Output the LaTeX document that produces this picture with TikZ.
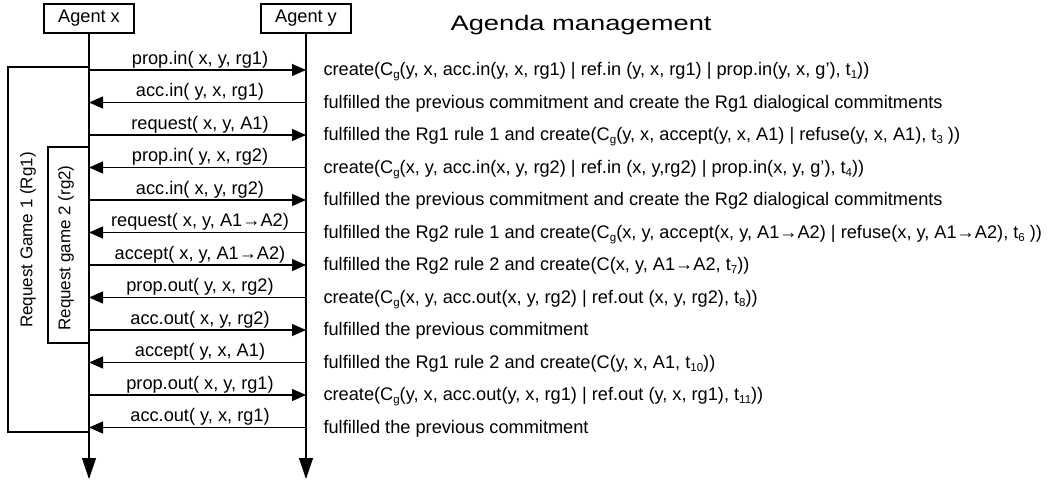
\documentclass[tikz,border=0pt]{standalone}
\usepackage{fontspec}
\setmainfont{Liberation Sans}
\usepackage{graphicx}
\usetikzlibrary{arrows.meta}
\newcommand{\lsub}[1]{\raisebox{-0.35ex}{\fontsize{11.5}{12}\selectfont #1}}
\begin{document}
\begin{tikzpicture}[x=1pt,y=-1pt, font=\fontsize{18.2}{21}\selectfont, line width=1.1pt,
  agent/.style={draw, minimum width=90, minimum height=29, inner sep=0},
  msg/.style={-{Triangle[length=14pt,width=12pt]}},
  life/.style={-{Triangle[length=21pt,width=14pt]}},
  lbl/.style={anchor=base, inner sep=0},
  note/.style={anchor=base west, inner sep=0},
  gamebox/.style={draw, line join=miter},
  gamelabel/.style={rotate=90, inner sep=0, font=\fontsize{17}{20}\selectfont}]
\useasboundingbox (0,0) rectangle (1050,482);
\node[agent] (ax) at (89,18.5) {Agent x};
\node[agent] (ay) at (306,18.5) {Agent y};
\node[anchor=base west, inner sep=0, font=\fontsize{21}{24}\selectfont] (title) at (450,30) {\scalebox{1.3}[1]{Agenda management}};
\coordinate (axe) at (89,479);
\coordinate (aye) at (306,479);
\draw[life] (ax.south) -- (axe);
\draw[life] (ay.south) -- (aye);
\foreach \i in {0,...,11} {
  \coordinate (x\i) at (89,70+32.5*\i);
  \coordinate (y\i) at (306,70+32.5*\i);
  \coordinate (m\i) at (200,64+32.5*\i);
  \coordinate (n\i) at (323,75.5+32.5*\i);
}
% game boxes
\coordinate (g1t) at (89,67);
\coordinate (g1b) at (89,432);
\coordinate (g2t) at (89,147);
\coordinate (g2b) at (89,343);
\draw[gamebox] (g1t) -- (8,67) -- (8,432) -- (g1b);
\draw[gamebox] (g2t) -- (48,147) -- (48,343) -- (g2b);
\node[gamelabel] (rg1) at (28,240) {Request Game 1 (Rg1)};
\node[gamelabel] (rg2) at (66,248) {Request game 2 (rg2)};
% messages
\draw[msg] (x0) -- (y0);  \node[lbl] (l0) at (m0) {prop.in( x, y, rg1)};
\draw[msg] (y1) -- (x1);  \node[lbl] (l1) at (m1) {acc.in( y, x, rg1)};
\draw[msg] (x2) -- (y2);  \node[lbl] (l2) at (m2) {request( x, y, A1)};
\draw[msg] (y3) -- (x3);  \node[lbl] (l3) at (m3) {prop.in( y, x, rg2)};
\draw[msg] (x4) -- (y4);  \node[lbl] (l4) at (m4) {acc.in( x, y, rg2)};
\draw[msg] (y5) -- (x5);  \node[lbl] (l5) at (m5) {request( x, y, A1→A2)};
\draw[msg] (x6) -- (y6);  \node[lbl] (l6) at (m6) {accept( x, y, A1→A2)};
\draw[msg] (y7) -- (x7);  \node[lbl] (l7) at (m7) {prop.out( y, x, rg2)};
\draw[msg] (x8) -- (y8);  \node[lbl] (l8) at (m8) {acc.out( x, y, rg2)};
\draw[msg] (y9) -- (x9);  \node[lbl] (l9) at (m9) {accept( y, x, A1)};
\draw[msg] (x10) -- (y10); \node[lbl] (l10) at (m10) {prop.out( x, y, rg1)};
\draw[msg] (y11) -- (x11); \node[lbl] (l11) at (m11) {acc.out( y, x, rg1)};
% notes
\node[note] (r0) at (n0) {create(C\lsub{g}(y, x, acc.in(y, x, rg1) | ref.in (y, x, rg1) | prop.in(y, x, g'), t\lsub{1}))};
\node[note] (r1) at (n1) {fulfilled the previous commitment and create the Rg1 dialogical commitments};
\node[note] (r2) at (n2) {fulfilled the Rg1 rule 1 and create(C\lsub{g}(y, x, accept(y, x, A1) | refuse(y, x, A1), t\lsub{3} ))};
\node[note] (r3) at (n3) {create(C\lsub{g}(x, y, acc.in(x, y, rg2) | ref.in (x, y,rg2) | prop.in(x, y, g'), t\lsub{4}))};
\node[note] (r4) at (n4) {fulfilled the previous commitment and create the Rg2 dialogical commitments};
\node[note] (r5) at (n5) {fulfilled the Rg2 rule 1 and create(C\lsub{g}(x, y, acc\kern1pt ept(x, y, A1→A2) | refuse(x, y, A1→A2), t\lsub{6} ))};
\node[note] (r6) at (n6) {fulfilled the Rg2 rule 2 and create(C(x, y, A1→A2, t\lsub{7}))};
\node[note] (r7) at (n7) {create(C\lsub{g}(x, y, acc.out(x, y, rg2) | ref.out (x, y, rg2), t\lsub{8}))};
\node[note] (r8) at (n8) {fulfilled the previous commitment};
\node[note] (r9) at (n9) {fulfilled the Rg1 rule 2 and create(C(y, x, A1, t\lsub{10}))};
\node[note] (r10) at (n10) {create(C\lsub{g}(y, x, acc.out(y, x, rg1) | ref.out (y, x, rg1), t\lsub{11}))};
\node[note] (r11) at (n11) {fulfilled the previous commitment};
\end{tikzpicture}
\end{document}
